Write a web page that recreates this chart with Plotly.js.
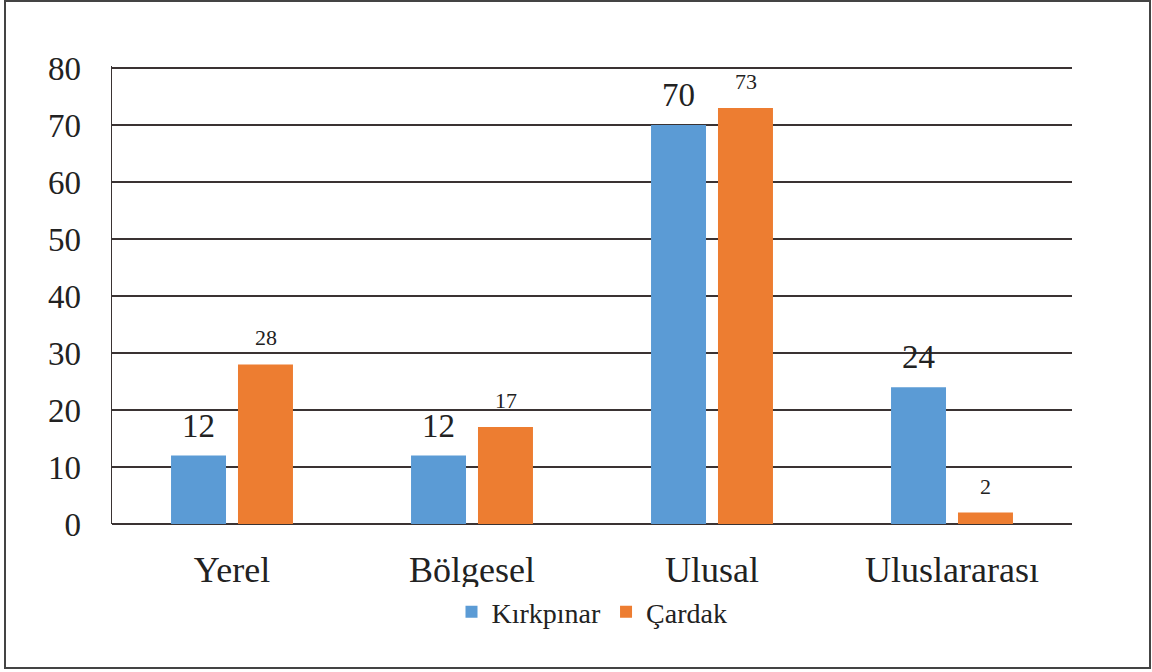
<!DOCTYPE html>
<html>
<head>
<meta charset="utf-8">
<script src="https://cdn.plot.ly/plotly-3.0.1.min.js"></script>
<style>html,body{margin:0;padding:0;background:#fff;}#chart{width:1152px;height:672px;}</style>
</head>
<body>
<div id="chart"></div>
<script>
const categories = ["Yerel", "Bölgesel", "Ulusal", "Uluslararası"];
const seriesNames = ["Kırkpınar", "Çardak"];
const kirkpinar = [12, 12, 70, 24];
const cardak = [28, 17, 73, 2];
const yTicks = [0, 10, 20, 30, 40, 50, 60, 70, 80];

const font = "Liberation Serif";
const px = v => (v - 112) / 960;
const py = v => (524 - v) / 458;

const traces = [
  {type: "bar", name: seriesNames[0], x: categories, y: kirkpinar, marker: {color: "#5B9BD5"}},
  {type: "bar", name: seriesNames[1], x: categories, y: cardak, marker: {color: "#ED7D31"}}
];

// value labels above the bars, positioned through the axes' scales
const labelStyle = [
  {vals: kirkpinar, xshift: -33.5, yshift: 12, size: 33},
  {vals: cardak, xshift: 33.5, yshift: 14, size: 22}
];
const annotations = [];
labelStyle.forEach(s => s.vals.forEach((v, i) => annotations.push({
  x: categories[i], y: v, xref: "x", yref: "y", text: String(v), showarrow: false,
  xanchor: "center", yanchor: "bottom", xshift: s.xshift, yshift: s.yshift,
  borderpad: 0, borderwidth: 0, font: {family: font, size: s.size, color: "#222"}
})));

const layout = {
  width: 1152, height: 672,
  margin: {l: 112, r: 80, t: 66, b: 148},
  paper_bgcolor: "#fff", plot_bgcolor: "#fff",
  font: {family: font, color: "#222"},
  barmode: "group", bargap: 0.442, bargroupgap: 0.179,
  showlegend: true,
  legend: {orientation: "h", x: 0.5, xanchor: "center", y: py(612), yanchor: "middle",
           font: {family: font, size: 28, color: "#222"}, itemwidth: 30, tracegroupgap: 0},
  xaxis: {type: "category", tickfont: {family: font, size: 36, color: "#222"},
          ticks: "", showline: false, ticklabelstandoff: 21},
  yaxis: {range: [0, 80.35], tickvals: yTicks, ticktext: yTicks.map(String),
          tickfont: {family: font, size: 33, color: "#222"},
          showgrid: true, gridcolor: "#3a3333", gridwidth: 1.5,
          zeroline: true, zerolinecolor: "#3a3333", zerolinewidth: 1.5,
          showline: true, linecolor: "#3a3333", linewidth: 1.5,
          ticks: "", ticklabelstandoff: 23},
  annotations: annotations,
  shapes: [{type: "rect", xref: "paper", yref: "paper",
            x0: px(5), x1: px(1150), y0: py(668), y1: py(1),
            line: {color: "#444", width: 2}}]
};

Plotly.newPlot("chart", traces, layout, {displayModeBar: false, staticPlot: true});
</script>
</body>
</html>
